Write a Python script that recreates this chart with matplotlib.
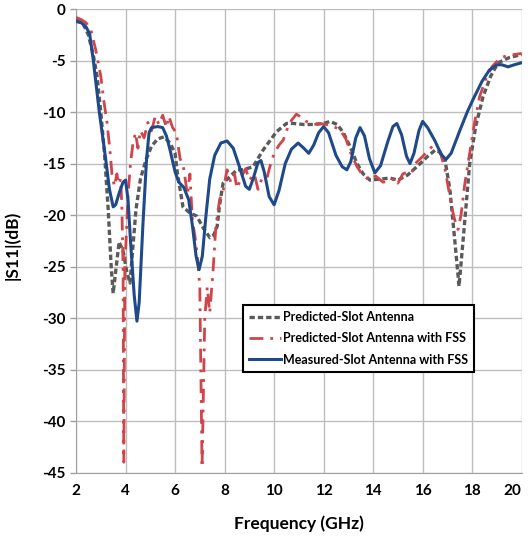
import matplotlib
matplotlib.use("Agg")
import matplotlib.pyplot as plt

plt.rcParams['font.family'] = ['Lato', 'DejaVu Sans']
plt.rcParams['font.weight'] = 'bold'
plt.rcParams['axes.unicode_minus'] = False

# Measured - slot antenna with FSS
f_meas = [2.0, 2.2, 2.4, 2.55, 2.7, 2.93, 3.2, 3.35, 3.5, 3.6, 3.75, 3.9, 4.0,
          4.1, 4.2, 4.35, 4.46, 4.55, 4.7, 4.85, 4.95, 5.05, 5.3, 5.5, 5.65,
          5.8, 6.0, 6.15, 6.35, 6.55, 6.7, 6.85, 6.97, 7.1, 7.25, 7.4, 7.6,
          7.85, 8.1, 8.35, 8.6, 8.85, 9.0, 9.15, 9.35, 9.47, 9.6, 9.8, 10.0,
          10.2, 10.45, 10.7, 10.97, 11.2, 11.4, 11.6, 11.8, 12.0, 12.2, 12.5,
          12.75, 12.94, 13.1, 13.3, 13.47, 13.65, 13.85, 14.07, 14.3, 14.6,
          14.8, 14.96, 15.15, 15.35, 15.49, 15.65, 15.85, 16.0, 16.2, 16.5,
          16.75, 16.94, 17.15, 17.5, 17.8, 18.03, 18.4, 18.7, 19.0, 19.2,
          19.45, 19.7, 20.0]
s_meas = [-1.2, -1.3, -1.7, -2.4, -5.0, -9.8, -14.6, -17.5, -19.2, -19.0,
          -17.8, -16.8, -16.6, -18.5, -22.5, -27.8, -30.3, -28.5, -21.0,
          -14.5, -12.0, -11.5, -11.4, -11.5, -12.3, -13.7, -15.8, -16.8,
          -17.3, -18.5, -21.0, -24.0, -25.3, -24.0, -20.0, -16.5, -14.2,
          -13.0, -12.8, -13.5, -15.3, -17.2, -17.5, -16.5, -14.9, -14.7,
          -15.8, -18.2, -19.0, -17.6, -15.0, -13.6, -13.0, -13.5, -14.0,
          -13.2, -12.0, -11.4, -12.0, -14.2, -15.3, -15.6, -14.8, -12.5,
          -11.5, -12.3, -14.5, -15.9, -15.2, -12.8, -11.4, -11.1, -12.2,
          -14.3, -15.0, -14.0, -11.8, -10.9, -11.5, -12.8, -14.1, -14.6,
          -14.0, -11.8, -10.0, -8.8, -7.0, -5.9, -5.4, -5.4, -5.6, -5.4, -5.2]

# Predicted - slot antenna
f_pred = [2.0, 2.3, 2.5, 2.7, 2.85, 3.0, 3.15, 3.3, 3.42, 3.5, 3.6, 3.74,
          3.9, 4.05, 4.18, 4.3, 4.42, 4.6, 4.83, 5.05, 5.3, 5.55, 5.8, 6.0,
          6.1, 6.32, 6.6, 6.88, 7.15, 7.41, 7.55, 7.7, 7.8, 7.94, 8.2, 8.5,
          8.75, 9.15, 9.55, 10.1, 10.5, 10.8, 11.2, 11.6, 12.0, 12.26, 12.55,
          12.8, 13.1, 13.35, 13.6, 13.87, 14.3, 14.68, 15.0, 15.4, 15.9, 16.2,
          16.5, 16.7, 16.9, 17.1, 17.3, 17.47, 17.65, 17.9, 18.15, 18.44,
          18.75, 19.05, 19.5, 20.0]
s_pred = [-1.0, -1.5, -2.5, -4.5, -6.5, -10.0, -14.0, -19.5, -25.0, -27.6,
          -25.5, -22.6, -23.5, -25.5, -26.6, -23.0, -19.5, -16.5, -14.6,
          -13.3, -12.6, -12.4, -13.0, -14.0, -16.0, -19.2, -19.8, -20.1,
          -21.3, -22.2, -22.0, -21.1, -19.0, -16.9, -16.3, -15.6, -15.6,
          -15.3, -13.7, -11.9, -11.1, -11.1, -11.2, -11.2, -11.1, -10.9,
          -11.2, -12.0, -13.5, -15.0, -16.0, -16.6, -16.5, -16.4, -16.6,
          -16.1, -15.0, -14.3, -13.7, -13.9, -14.6, -17.5, -22.5, -26.9,
          -22.0, -15.0, -11.3, -8.5, -6.5, -5.2, -4.7, -4.4]

# Predicted - slot antenna with FSS
f_fss = [2.0, 2.2, 2.4, 2.6, 2.8, 3.0, 3.1, 3.25, 3.37, 3.45, 3.55, 3.65,
         3.72, 3.8, 3.85, 3.9, 3.93, 3.97, 4.02, 4.1, 4.2, 4.3, 4.4, 4.5,
         4.6, 4.75, 4.9, 5.05, 5.2, 5.35, 5.5, 5.65, 5.75, 5.9, 6.05, 6.2,
         6.35, 6.5, 6.6, 6.7, 6.8, 6.9, 7.0, 7.09, 7.2, 7.3, 7.4, 7.53,
         7.65, 7.8, 7.95, 8.1, 8.25, 8.4, 8.5, 8.7, 8.85, 9.0, 9.2, 9.35,
         9.5, 9.7, 9.83, 10.0, 10.2, 10.37, 10.55, 10.7, 10.9, 11.1, 11.3,
         11.6, 11.85, 12.1, 12.4, 12.66, 12.9, 13.1, 13.35, 13.6, 13.87,
         14.1, 14.4, 14.68, 14.9, 15.0, 15.2, 15.4, 15.56, 15.7, 16.0, 16.4,
         16.7, 16.9, 17.05, 17.2, 17.3, 17.43, 17.55, 17.7, 17.9, 18.1,
         18.3, 18.55, 18.8, 19.1, 19.4, 19.7, 20.0]
s_fss = [-0.8, -1.0, -1.3, -2.0, -4.0, -6.5, -8.5, -11.0, -13.7, -16.0,
         -17.2, -16.0, -17.0, -16.5, -19.0, -25.0, -44.0, -25.0, -22.5,
         -18.0, -15.0, -13.0, -12.0, -13.5, -11.8, -12.5, -11.0, -11.8,
         -10.4, -11.2, -10.3, -11.5, -10.4, -11.5, -12.0, -14.5, -15.5,
         -18.0, -16.0, -20.5, -22.0, -24.0, -27.0, -44.5, -30.0, -27.0,
         -29.5, -25.6, -21.0, -18.5, -17.5, -15.6, -16.8, -16.0, -17.4,
         -16.2, -15.5, -16.6, -16.0, -17.5, -16.5, -16.5, -15.3, -14.0,
         -13.2, -12.7, -11.5, -10.8, -10.2, -10.5, -10.9, -11.2, -11.1,
         -11.2, -11.4, -11.7, -12.6, -14.0, -15.3, -16.2, -16.6, -16.2,
         -16.8, -16.7, -16.4, -16.9, -16.0, -15.8, -15.9, -15.0, -14.3,
         -13.3, -13.8, -15.5, -17.5, -19.5, -20.5, -21.4, -20.0, -17.0,
         -14.0, -11.0, -8.5, -6.8, -5.6, -4.8, -4.5, -4.4, -4.3]

x_ticks = [2, 4, 6, 8, 10, 12, 14, 16, 18, 20]
y_ticks = [0, -5, -10, -15, -20, -25, -30, -35, -40, -45]

fig = plt.figure(figsize=(5.28, 5.40), dpi=100)
ax = fig.add_axes([0.144, 0.125, 0.844, 0.858])

ax.plot(f_pred, s_pred, color='#5a5a5a', lw=2.4, ls=(0, (1.6, 0.9)),
        label='Predicted-Slot Antenna', zorder=3)
ax.plot(f_fss, s_fss, color='#d0454a', lw=2.0, ls=(0, (5, 2.5, 1, 2.5)),
        label='Predicted-Slot Antenna with FSS', zorder=4)
ax.plot(f_meas, s_meas, color='#1f4a8a', lw=2.2,
        label='Measured-Slot Antenna with FSS', zorder=5)

ax.set_xlim(2, 20)
ax.set_ylim(-45, 0)
ax.set_xticks(x_ticks)
ax.set_yticks(y_ticks)
ax.grid(True, color='#bdbdbd', lw=1.0)
ax.set_axisbelow(True)
for side in ['top', 'right']:
    ax.spines[side].set_visible(False)
for side in ['left', 'bottom']:
    ax.spines[side].set_color('#a0a0a0')
ax.tick_params(axis='both', labelsize=11, colors='#a0a0a0', labelcolor='black',
               length=4, width=1)
ax.tick_params(axis='x', length=0, pad=8)
for lab in ax.get_xticklabels() + ax.get_yticklabels():
    lab.set_fontweight('bold')
ax.get_xticklabels()[-1].set_horizontalalignment('right')

ax.set_xlabel('Frequency (GHz)', fontsize=12.5, fontweight='bold', labelpad=13)
ax.set_ylabel('|S11|(dB)', fontsize=12.5, fontweight='bold')
ax.yaxis.set_label_coords(-0.125, 0.49)

leg = ax.legend(loc='upper left', bbox_to_anchor=(0.375, 0.362), fontsize=9.0,
                handlelength=2.5, handletextpad=0.15, labelspacing=0.75,
                borderpad=0.5, fancybox=False, framealpha=1,
                edgecolor='black', borderaxespad=0)
leg.get_frame().set_linewidth(1.5)
for t in leg.get_texts():
    t.set_fontweight('bold')

fig.savefig('out.png', dpi=100)
